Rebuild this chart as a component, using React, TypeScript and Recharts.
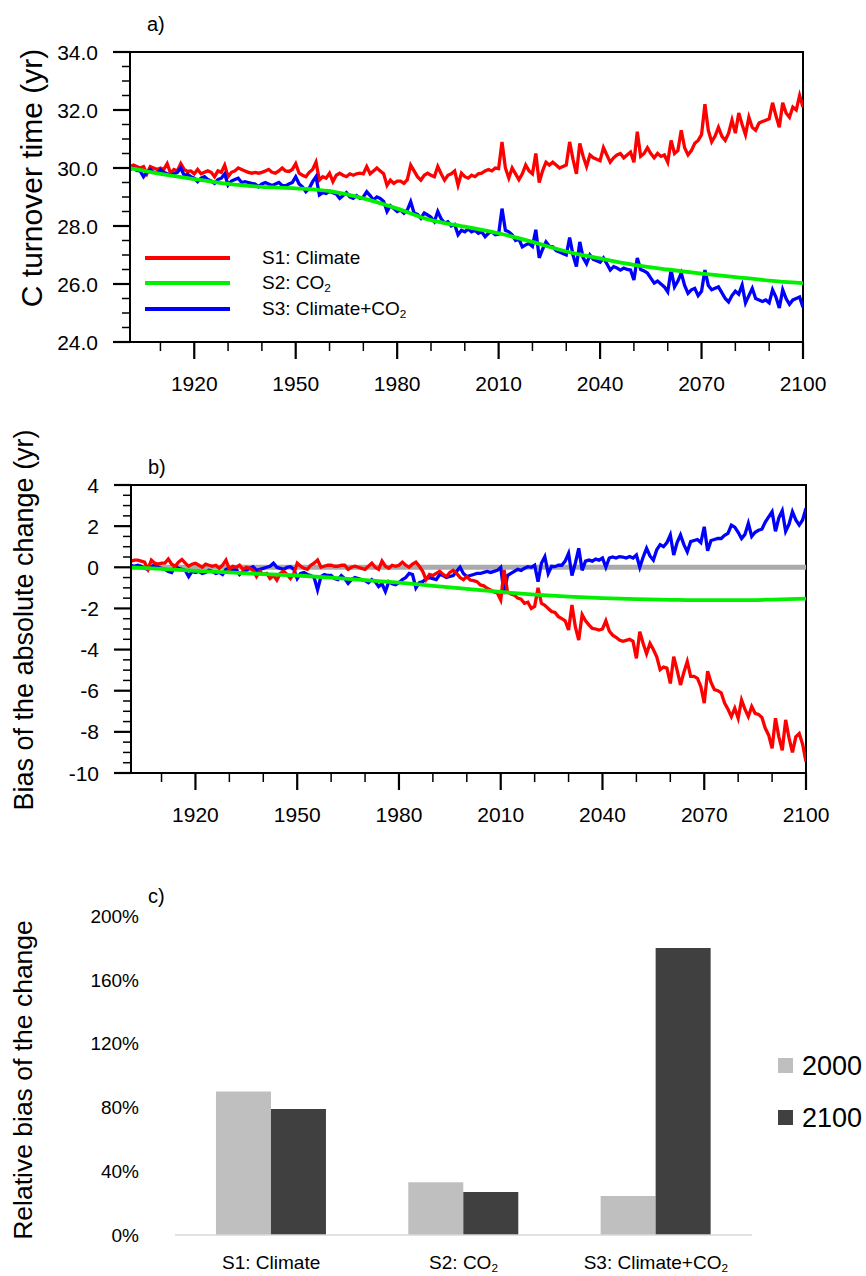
import React from 'react';
import { LineChart, Line, XAxis, YAxis, ReferenceArea, ReferenceLine, BarChart, Bar } from 'recharts';

// x positions (years) of the annual series
const years = Array.from({ length: 200 }, (_, i) => 1901 + i);
const decadeYears = [1901, 1910, 1920, 1930, 1940, 1950, 1960, 1970, 1980, 1990, 2000, 2010, 2020, 2030, 2040, 2050, 2060, 2070, 2080, 2090, 2100];

// panel a: C turnover time (yr)
const turnoverS1 = [
  30.05, 30.1, 30.05, 30.0, 30.05, 29.8, 30.05, 30.0, 29.95, 30.0,
  29.95, 30.15, 29.82, 29.95, 29.9, 30.15, 29.95, 29.88, 29.9, 29.8,
  29.95, 29.8, 29.85, 29.9, 29.85, 29.7, 29.9, 29.85, 30.1, 29.7,
  29.85, 29.9, 30.0, 29.95, 29.9, 29.85, 29.82, 29.85, 29.82, 29.85,
  29.9, 29.95, 29.85, 29.82, 29.9, 30.0, 29.9, 29.88, 29.95, 30.15,
  29.82, 29.75, 29.7, 29.85, 29.95, 30.2, 29.58, 29.7, 29.65, 29.82,
  29.53, 29.75, 29.82, 29.75, 29.7, 29.8, 29.75, 29.8, 29.82, 29.8,
  30.05, 29.8, 29.9, 30.0, 29.9, 29.8, 29.4, 29.58, 29.47, 29.55,
  29.55, 29.47, 29.6, 30.1, 29.9, 29.7, 29.58, 29.75, 29.82, 29.75,
  29.7, 30.05, 29.8, 29.58, 29.75, 29.8, 29.9, 29.41, 29.82, 29.7,
  29.65, 29.75, 29.7, 29.8, 29.82, 29.9, 29.95, 29.9, 30.0, 29.98,
  30.9, 30.0, 29.65, 30.0, 29.8, 29.6, 29.8, 30.1, 29.9, 29.8,
  30.5, 29.5, 29.9, 30.2, 30.1, 30.2, 30.1, 30.0, 30.05, 30.1,
  30.9, 30.3, 29.8, 30.85, 30.4, 30.05, 30.45, 30.35, 30.3, 30.25,
  30.7, 30.45, 30.2, 30.35, 30.45, 30.5, 30.35, 30.45, 30.55, 30.2,
  31.25, 30.4, 30.5, 30.7, 30.5, 30.35, 30.5, 30.4, 30.45, 30.2,
  30.95, 30.5, 30.6, 31.3, 30.7, 30.45, 30.6, 30.85, 30.95, 31.15,
  32.2, 31.3, 30.9, 31.1, 31.4, 31.1, 30.95, 31.2, 31.65, 31.2,
  31.9, 31.5, 31.15, 31.75, 31.4, 31.3, 31.55, 31.6, 31.65, 31.7,
  32.25, 31.8, 31.4, 32.25, 31.9, 31.75, 32.1, 32.0, 32.5, 32.1,
];
const turnoverS3 = [
  29.95, 30.0, 29.92, 29.9, 29.7, 29.85, 29.95, 29.85, 29.82, 29.94,
  29.85, 29.8, 29.75, 29.8, 29.85, 30.0, 29.75, 29.78, 29.7, 29.65,
  29.53, 29.65, 29.7, 29.6, 29.55, 29.47, 29.6, 29.65, 29.8, 29.41,
  29.55, 29.6, 29.65, 29.5, 29.53, 29.5, 29.47, 29.45, 29.35, 29.45,
  29.5, 29.45, 29.4, 29.45, 29.5, 29.4, 29.38, 29.45, 29.5, 29.7,
  29.45, 29.35, 29.18, 29.3, 29.53, 29.7, 29.07, 29.15, 29.12, 29.2,
  29.15, 29.1, 28.95, 29.05, 29.15, 29.0, 28.95, 29.05, 28.95, 29.0,
  29.18, 29.05, 28.9, 29.0, 28.95, 28.85, 28.5, 28.7, 28.6, 28.5,
  28.55, 28.44, 28.55, 28.84, 28.45, 28.4, 28.27, 28.45, 28.38, 28.3,
  28.15, 28.5, 28.25, 28.1, 28.15, 28.0, 28.05, 27.7, 27.85, 27.8,
  27.9, 27.8, 27.85, 27.75, 27.8, 27.63, 27.75, 27.8, 27.7, 27.72,
  28.6, 27.85, 27.8, 27.7, 27.5, 27.55, 27.28, 27.35, 27.4, 27.3,
  27.87, 26.9, 27.2, 27.45, 27.3, 27.28, 27.15, 27.1, 27.05, 27.0,
  27.6, 27.0, 26.6, 27.45, 26.9, 26.7, 27.0, 26.85, 26.8, 26.75,
  26.9, 26.7, 26.48, 26.6, 26.55, 26.48, 26.55, 26.5, 26.48, 26.14,
  26.9, 26.5, 26.45, 26.38, 26.2, 26.03, 26.1, 26.0, 25.9, 25.73,
  26.48, 25.9, 26.1, 26.38, 25.95, 25.68, 25.8, 25.85, 25.6, 25.75,
  26.48, 25.95, 25.8, 25.85, 25.9, 25.7, 25.5, 25.38, 25.6, 25.75,
  25.65, 25.96, 25.35, 25.6, 25.85, 25.5, 25.45, 25.4, 25.45, 25.35,
  25.8, 25.55, 25.17, 25.8, 25.5, 25.3, 25.45, 25.5, 25.55, 25.2,
];
const turnoverS2 = [30.0, 29.8, 29.62, 29.45, 29.35, 29.3, 29.2, 28.95, 28.6, 28.2, 27.98, 27.75, 27.45, 27.12, 26.88, 26.66, 26.5, 26.36, 26.24, 26.12, 26.03];

// panel b: bias of the absolute change (yr)
const biasS1 = [
  0.3, 0.35, 0.35, 0.3, 0.25, -0.1, 0.35, 0.2, 0.15, 0.2,
  0.2, 0.4, 0.15, 0.05, 0.25, 0.38, 0.2, 0.05, 0.15, 0.2,
  0.1, 0.0, 0.15, 0.1, 0.05, 0.1, -0.05, 0.1, 0.35, -0.1,
  0.05, 0.0, 0.1, -0.1, 0.0, -0.05, -0.15, -0.45, -0.2, -0.35,
  -0.3, -0.55, -0.4, -0.62, -0.3, -0.2, -0.35, -0.55, -0.3, 0.2,
  0.05, -0.05, -0.1, 0.1, 0.2, 0.35, 0.0, 0.05, 0.1, 0.1,
  0.05, 0.05, 0.1, 0.1, -0.1, 0.0, 0.05, 0.0, -0.05, -0.1,
  0.05, 0.2, 0.0, -0.1, 0.3, 0.05, -0.05, 0.1, 0.05, 0.1,
  0.25, 0.1, 0.0, 0.15, 0.25, 0.05, -0.2, -0.6, -0.35, -0.4,
  -0.3, -0.2, -0.35, -0.45, -0.25, -0.15, -0.3, -0.5, -0.6, -0.45,
  -0.62, -0.65, -0.7, -0.86, -0.9, -1.02, -1.1, -1.2, -1.25, -1.59,
  -0.13, -1.2, -1.3, -1.35, -1.5, -1.55, -1.75, -1.7, -2.0, -1.9,
  -1.0, -1.75, -1.85, -2.0, -2.15, -2.2, -2.4, -2.5, -2.6, -3.05,
  -1.83, -2.9, -3.54, -2.3, -2.6, -2.8, -2.97, -3.0, -3.05, -3.0,
  -2.6, -3.1, -3.3, -3.4, -3.54, -3.6, -3.55, -3.5, -3.6, -4.43,
  -3.13, -3.7, -4.2, -3.7, -4.0, -4.35, -4.98, -4.85, -4.9, -5.65,
  -4.35, -5.0, -5.72, -5.1, -4.58, -5.3, -5.3, -5.4, -5.8, -6.6,
  -5.05, -5.6, -5.95, -6.0, -6.1, -6.6, -6.9, -7.26, -6.85, -7.34,
  -6.45, -6.9, -7.26, -6.77, -7.1, -7.15, -7.3, -7.83, -8.16, -8.8,
  -7.34, -8.24, -8.9, -7.42, -8.3, -9.0, -8.24, -8.08, -8.6, -9.45,
];
const biasS3 = [
  0.1, 0.05, 0.1, 0.05, -0.05, -0.1, 0.0, 0.15, 0.0, -0.05,
  -0.1, -0.2, -0.25, 0.05, -0.05, -0.1, -0.15, -0.45, -0.2, -0.25,
  -0.2, -0.3, -0.25, -0.15, -0.2, -0.3, -0.25, -0.35, -0.1, -0.05,
  -0.15, -0.1, -0.35, -0.2, -0.15, -0.05, 0.03, -0.15, -0.1, -0.05,
  0.0, 0.05, 0.2, 0.0, -0.05, -0.1, 0.0, 0.03, -0.1, -0.55,
  -0.3, -0.25, -0.35, -0.4, -0.5, -1.1, -0.45, -0.35, -0.4, -0.4,
  -0.55, -0.6, -0.4, -0.55, -0.78, -0.6, -0.5, -0.55, -0.6, -0.65,
  -0.75, -0.6, -0.7, -0.94, -0.8, -1.18, -0.7, -0.8, -0.85, -0.75,
  -0.6, -0.5, -0.3, -0.35, -1.0, -0.75, -0.7, -0.55, -0.5, -0.55,
  -0.6, -0.35, -0.4, -0.5, -0.45, -0.4, -0.2, 0.0, -0.3, -0.45,
  -0.4, -0.35, -0.3, -0.3, -0.25, -0.2, -0.25, -0.2, -0.15, 0.0,
  -1.3, -0.4, -0.3, -0.2, -0.1, -0.15, -0.05, 0.03, 0.0, 0.1,
  -0.7, 0.2, 0.52, -0.3, 0.05, 0.03, 0.1, 0.1, 0.3, 0.68,
  -0.4, 0.2, 0.92, -0.15, 0.3, 0.35, 0.3, 0.4, 0.35, 0.45,
  0.0, 0.45, 0.5, 0.45, 0.52, 0.5, 0.45, 0.52, 0.45, 0.6,
  0.0, 0.5, 0.92, 0.55, 0.35, 0.85, 1.1, 1.0, 1.2, 1.57,
  0.6, 1.2, 1.57, 1.1, 0.75, 1.25, 1.3, 1.35, 1.2, 1.97,
  0.8, 1.3, 1.35, 1.4, 1.4, 1.55, 1.65, 2.05, 1.95, 1.7,
  1.4, 1.6, 2.14, 1.5, 1.7, 1.8, 1.85, 2.2, 2.45, 2.7,
  1.75, 2.4, 2.75, 1.75, 2.1, 2.7, 2.3, 2.05, 2.3, 2.87,
];
const biasS2 = [0.0, -0.08, -0.17, -0.25, -0.33, -0.4, -0.5, -0.62, -0.75, -0.9, -1.05, -1.2, -1.33, -1.43, -1.5, -1.55, -1.58, -1.6, -1.6, -1.57, -1.52];

// panel c: relative bias of the change (%)
const barCategories = ['S1: Climate', 'S2: CO2', 'S3: Climate+CO2'];
const rel2000 = [90, 33, 24.5];
const rel2100 = [79, 27, 180];

// ticks
const xTicks = [1910, 1920, 1930, 1940, 1950, 1960, 1970, 1980, 1990, 2000, 2010, 2020, 2030, 2040, 2050, 2060, 2070, 2080, 2090, 2100];
const xMajor = [1920, 1950, 1980, 2010, 2040, 2070, 2100];
const aYTicks = [24, 24.5, 25, 25.5, 26, 26.5, 27, 27.5, 28, 28.5, 29, 29.5, 30, 30.5, 31, 31.5, 32, 32.5, 33, 33.5, 34];
const aYMajor = [24, 26, 28, 30, 32, 34];
const bYTicks = [-10, -9.5, -9, -8.5, -8, -7.5, -7, -6.5, -6, -5.5, -5, -4.5, -4, -3.5, -3, -2.5, -2, -1.5, -1, -0.5, 0, 0.5, 1, 1.5, 2, 2.5, 3, 3.5, 4];
const bYMajor = [-10, -8, -6, -4, -2, 0, 2, 4];
const cYTicks = [0, 40, 80, 120, 160, 200];

const pts = (xs: number[], vs: number[]) => vs.map((v, i) => ({ year: xs[i], v }));
const barData = barCategories.map((name, i) => ({ name, y2000: rel2000[i], y2100: rel2100[i] }));

const FONT = '"Liberation Sans", Arial, Helvetica, sans-serif';
const RED = '#ff0000';
const GREEN = '#00f000';
const BLUE = '#0000ff';
const LW = 3.3;

function XTick({ x, y, payload }: any) {
  const major = xMajor.includes(payload.value);
  return (
    <g>
      <line x1={x} x2={x} y1={y} y2={y + (major ? 17 : 9)} stroke="#000" strokeWidth={major ? 2.2 : 1.5} />
      {major && (
        <text x={x} y={y + 49} textAnchor="middle" fontSize={21} fill="#000" fontFamily={FONT}>
          {payload.value}
        </text>
      )}
    </g>
  );
}

const makeYTick = (majors: number[], fmt: (v: number) => string) => ({ x, y, payload }: any) => {
  const major = majors.includes(payload.value);
  return (
    <g>
      <line x1={x - (major ? 17 : 8)} x2={x} y1={y} y2={y} stroke="#000" strokeWidth={major ? 2.2 : 1.5} />
      {major && (
        <text x={x - 32} y={y} dy="0.36em" textAnchor="end" fontSize={21} fill="#000" fontFamily={FONT}>
          {fmt(payload.value)}
        </text>
      )}
    </g>
  );
};
const ATick = makeYTick(aYMajor, (v) => v.toFixed(1));
const BTick = makeYTick(bYMajor, (v) => String(v));

function SubLabel({ text, ...rest }: any) {
  // renders "CO2" with a subscript 2
  const parts = text.split('CO2');
  return (
    <text {...rest}>
      {parts.map((p: string, i: number) => (
        <React.Fragment key={i}>
          <tspan>{p}</tspan>
          {i < parts.length - 1 && (
            <>
              <tspan>CO</tspan>
              <tspan fontSize="0.62em" dy="0.22em">2</tspan>
              <tspan dy="-0.22em"> </tspan>
            </>
          )}
        </React.Fragment>
      ))}
    </text>
  );
}

function CatTick({ x, y, payload }: any) {
  return <SubLabel text={payload.value} x={x} y={y + 34} textAnchor="middle" fontSize={19} fill="#000" fontFamily={FONT} />;
}

const abs = (top: number, left = 0): React.CSSProperties => ({ position: 'absolute', top, left });

export default function App() {
  const legendRows = [
    { label: 'S1: Climate', color: RED, y: 258 },
    { label: 'S2: CO2', color: GREEN, y: 283 },
    { label: 'S3: Climate+CO2', color: BLUE, y: 309 },
  ];
  return (
    <div style={{ position: 'absolute', left: 0, top: 0, width: 866, height: 1276, background: '#fff', fontFamily: FONT }}>
      {/* panel a */}
      <div style={abs(0)}>
        <LineChart width={866} height={400} margin={{ top: 52, right: 63, bottom: 0, left: 60 }}>
          <XAxis type="number" dataKey="year" domain={[1901, 2100]} ticks={xTicks} interval={0} tick={<XTick />}
            tickSize={0} tickMargin={0} tickLine={false} axisLine={{ stroke: '#000', strokeWidth: 2 }} height={58} allowDataOverflow />
          <YAxis type="number" domain={[24, 34]} ticks={aYTicks} interval={0} tick={<ATick />}
            tickSize={0} tickMargin={0} tickLine={false} axisLine={{ stroke: '#000', strokeWidth: 2 }} width={70} allowDataOverflow />
          <ReferenceArea x1={1901} x2={2100} y1={24} y2={34} fill="none" stroke="#000" strokeWidth={2} fillOpacity={0} ifOverflow="visible" />
          <Line data={pts(years, turnoverS1)} dataKey="v" type="linear" stroke={RED} strokeWidth={LW} dot={false} isAnimationActive={false} />
          <Line data={pts(years, turnoverS3)} dataKey="v" type="linear" stroke={BLUE} strokeWidth={LW} dot={false} isAnimationActive={false} />
          <Line data={pts(decadeYears, turnoverS2)} dataKey="v" type="monotone" stroke={GREEN} strokeWidth={3.8} dot={false} isAnimationActive={false} />
        </LineChart>
      </div>

      {/* panel b */}
      <div style={abs(440)}>
        <LineChart width={866} height={393} margin={{ top: 45, right: 60, bottom: 0, left: 61 }}>
          <XAxis type="number" dataKey="year" domain={[1901, 2100]} ticks={xTicks} interval={0} tick={<XTick />}
            tickSize={0} tickMargin={0} tickLine={false} axisLine={{ stroke: '#000', strokeWidth: 2 }} height={60} allowDataOverflow />
          <YAxis type="number" domain={[-10, 4]} ticks={bYTicks} interval={0} tick={<BTick />}
            tickSize={0} tickMargin={0} tickLine={false} axisLine={{ stroke: '#000', strokeWidth: 2 }} width={70} allowDataOverflow />
          <ReferenceLine y={0} stroke="#aaaaaa" strokeWidth={5} />
          <ReferenceArea x1={1901} x2={2100} y1={-10} y2={4} fill="none" stroke="#000" strokeWidth={2} fillOpacity={0} ifOverflow="visible" />
          <Line data={pts(years, biasS3)} dataKey="v" type="linear" stroke={BLUE} strokeWidth={LW} dot={false} isAnimationActive={false} />
          <Line data={pts(years, biasS1)} dataKey="v" type="linear" stroke={RED} strokeWidth={LW} dot={false} isAnimationActive={false} />
          <Line data={pts(decadeYears, biasS2)} dataKey="v" type="monotone" stroke={GREEN} strokeWidth={3.8} dot={false} isAnimationActive={false} />
        </LineChart>
      </div>

      {/* panel c */}
      <div style={abs(880)}>
        <BarChart width={866} height={396} data={barData} margin={{ top: 36, right: 114, bottom: 0, left: 115 }}
          barCategoryGap="21.3%" barGap={0}>
          <XAxis dataKey="name" tick={<CatTick />} tickLine={false} tickSize={0} tickMargin={0} interval={0}
            axisLine={{ stroke: '#d9d9d9', strokeWidth: 1.5 }} height={41} />
          <YAxis type="number" domain={[0, 200]} ticks={cYTicks} interval={0} axisLine={false} tickLine={false}
            tickSize={0} tickMargin={36} width={60} tickFormatter={(v: number) => `${v}%`}
            tick={{ fontSize: 19, fill: '#000', fontFamily: FONT }} />
          <Bar dataKey="y2000" fill="#bfbfbf" isAnimationActive={false} />
          <Bar dataKey="y2100" fill="#404040" isAnimationActive={false} />
        </BarChart>
      </div>

      {/* titles, axis labels and legends */}
      <svg width={866} height={1276} style={{ position: 'absolute', left: 0, top: 0, pointerEvents: 'none' }} fontFamily={FONT}>
        <text x={147} y={31} fontSize={20} fill="#000">a)</text>
        <text x={148} y={474} fontSize={20} fill="#000">b)</text>
        <text x={148} y={903} fontSize={20} fill="#000">c)</text>

        <text transform="translate(42,178) rotate(-90)" textAnchor="middle" fontSize={30} fill="#000">C turnover time (yr)</text>
        <text transform="translate(33,620) rotate(-90)" textAnchor="middle" fontSize={27} fill="#000">Bias of the absolute change (yr)</text>
        <text transform="translate(32,1080) rotate(-90)" textAnchor="middle" fontSize={26.5} fill="#000">Relative bias of the change</text>

        {legendRows.map((r) => (
          <g key={r.label}>
            <line x1={145} x2={230} y1={r.y} y2={r.y} stroke={r.color} strokeWidth={4} />
            <SubLabel text={r.label} x={262} y={r.y + 6} fontSize={19} fill="#000" />
          </g>
        ))}

        <rect x={778} y={1058} width={15} height={15} fill="#bfbfbf" />
        <text x={802} y={1075} fontSize={27} fill="#000">2000</text>
        <rect x={778} y={1110} width={15} height={15} fill="#404040" />
        <text x={802} y={1127} fontSize={27} fill="#000">2100</text>
      </svg>
    </div>
  );
}
